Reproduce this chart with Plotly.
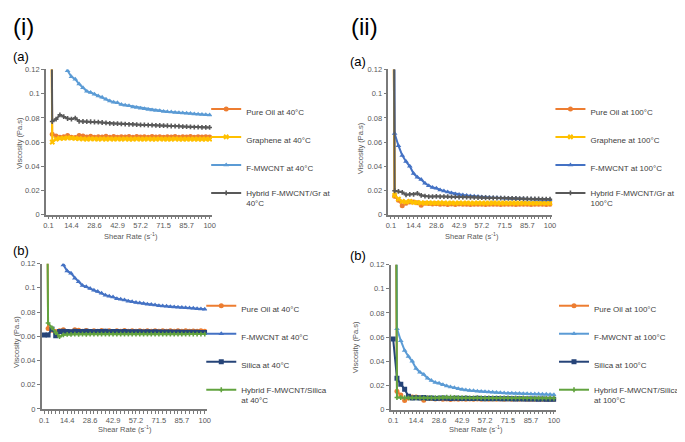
import plotly.graph_objects as go

# ---- data (shear rate categories, s^-1) ----
shear_rate = [0.1, 2.48, 4.86, 7.24, 9.61, 11.99, 14.37, 16.75, 19.13, 21.51, 23.89,
              26.26, 28.64, 31.02, 33.40, 35.78, 38.16, 40.54, 42.91, 45.29, 47.67,
              50.05, 52.43, 54.81, 57.19, 59.56, 61.94, 64.32, 66.70, 69.08, 71.46,
              73.84, 76.21, 78.59, 80.97, 83.35, 85.73, 88.11, 90.49, 92.86, 95.24,
              97.62, 100.0]
tick_positions = [0.1, 14.37, 28.64, 42.91, 57.19, 71.46, 85.73, 100.0]
tick_labels = ["0.1", "14.4", "28.6", "42.9", "57.2", "71.5", "85.7", "100"]
y_ticks = [0, 0.02, 0.04, 0.06, 0.08, 0.1, 0.12]
y_tick_labels = ["0", "0.02", "0.04", "0.06", "0.08", "0.1", "0.12"]

# 40 C
pure_oil_40 = [0.55, 0.0665, 0.065, 0.064, 0.0645, 0.0655, 0.064, 0.0638, 0.0655, 0.065,
               0.0642, 0.0648, 0.064, 0.0645, 0.0642, 0.0648, 0.0641, 0.0646, 0.064, 0.0645,
               0.0642, 0.0647, 0.0641, 0.0646, 0.0642, 0.0645, 0.0641, 0.0646, 0.0642, 0.0645,
               0.0641, 0.0645, 0.0642, 0.0646, 0.0641, 0.0645, 0.0642, 0.0646, 0.0641, 0.0644,
               0.0642, 0.0645, 0.0642]
graphene_40 = [0.5, 0.060, 0.0625, 0.063, 0.0632, 0.0635, 0.0634, 0.063, 0.0628, 0.0626,
               0.0625, 0.0627, 0.0626, 0.0625, 0.0626, 0.0625, 0.0626, 0.0625, 0.0626, 0.0625,
               0.0626, 0.0625, 0.0625, 0.0626, 0.0625, 0.0625, 0.0626, 0.0625, 0.0625, 0.0626,
               0.0625, 0.0625, 0.0625, 0.0626, 0.0625, 0.0625, 0.0625, 0.0625, 0.0624, 0.0625,
               0.0624, 0.0625, 0.0624]
fmwcnt_40 = [0.45, 0.30, 0.20, 0.16, 0.135, 0.119, 0.114, 0.112, 0.108, 0.105,
             0.102, 0.101, 0.0995, 0.098, 0.097, 0.0955, 0.094, 0.093, 0.0925, 0.091,
             0.0905, 0.090, 0.089, 0.0885, 0.088, 0.0875, 0.087, 0.0865, 0.0862, 0.0858,
             0.0853, 0.085, 0.0848, 0.0845, 0.0842, 0.084, 0.0838, 0.0836, 0.0833, 0.0831,
             0.0828, 0.0826, 0.0823]
hybrid_gr_40 = [0.6, 0.077, 0.079, 0.0825, 0.081, 0.0795, 0.079, 0.0798, 0.0772, 0.077,
                0.0769, 0.0768, 0.0766, 0.0765, 0.0762, 0.0758, 0.0755, 0.0752, 0.0752, 0.075,
                0.0748, 0.0747, 0.0746, 0.0745, 0.0743, 0.0742, 0.0741, 0.074, 0.0738, 0.0737,
                0.0736, 0.0735, 0.0733, 0.0732, 0.0731, 0.0728, 0.0727, 0.0726, 0.0724, 0.0723,
                0.0722, 0.0722, 0.0721]
silica_40 = [0.061, 0.061, 0.066, 0.0605, 0.064, 0.0642, 0.064, 0.0638, 0.0641, 0.064,
             0.0639, 0.0641, 0.064, 0.0638, 0.064, 0.0639, 0.0641, 0.0638, 0.0639, 0.064,
             0.0638, 0.0639, 0.0637, 0.0638, 0.0637, 0.0638, 0.0636, 0.0637, 0.0636, 0.0637,
             0.0635, 0.0636, 0.0635, 0.0636, 0.0634, 0.0635, 0.0634, 0.0634, 0.0633, 0.0634,
             0.0633, 0.0632, 0.0632]
hybrid_si_40 = [0.5, 0.071, 0.067, 0.063, 0.0597, 0.0612, 0.0616, 0.0615, 0.0617, 0.0616,
                0.0617, 0.0616, 0.0618, 0.0617, 0.0618, 0.0617, 0.0618, 0.0617, 0.0618, 0.0617,
                0.0618, 0.0617, 0.0618, 0.0617, 0.0618, 0.0617, 0.0618, 0.0617, 0.0618, 0.0617,
                0.0618, 0.0617, 0.0618, 0.0617, 0.0618, 0.0617, 0.0618, 0.0617, 0.0618, 0.0617,
                0.0618, 0.0617, 0.0618]

# 100 C
pure_oil_100 = [0.5, 0.0152, 0.012, 0.0075, 0.0095, 0.0105, 0.0104, 0.0098, 0.0078, 0.0095,
                0.0092, 0.0088, 0.009, 0.0086, 0.0088, 0.0084, 0.0088, 0.0085, 0.0088, 0.0086,
                0.0087, 0.0085, 0.0087, 0.0086, 0.0087, 0.0085, 0.0087, 0.0086, 0.0087, 0.0085,
                0.0087, 0.0086, 0.0087, 0.0085, 0.0087, 0.0086, 0.0086, 0.0085, 0.0087, 0.0086,
                0.0086, 0.0085, 0.0086]
graphene_100 = [0.5, 0.016, 0.013, 0.011, 0.0105, 0.011, 0.0102, 0.010, 0.0098, 0.0097,
                0.0098, 0.0097, 0.0097, 0.0098, 0.0097, 0.0096, 0.0097, 0.0096, 0.0097, 0.0096,
                0.0097, 0.0096, 0.0096, 0.0097, 0.0096, 0.0096, 0.0096, 0.0097, 0.0096, 0.0096,
                0.0096, 0.0095, 0.0096, 0.0096, 0.0095, 0.0096, 0.0095, 0.0095, 0.0096, 0.0095,
                0.0095, 0.0095, 0.0095]
fmwcnt_100 = [0.9, 0.067, 0.057, 0.049, 0.044, 0.040, 0.034, 0.031, 0.029, 0.026,
              0.024, 0.0225, 0.0218, 0.0205, 0.0195, 0.0188, 0.018, 0.0172, 0.0167, 0.0162,
              0.0158, 0.0155, 0.0152, 0.015, 0.0147, 0.0145, 0.0143, 0.0141, 0.014, 0.0138,
              0.0136, 0.0135, 0.0134, 0.0133, 0.0132, 0.0131, 0.013, 0.0129, 0.0128, 0.0127,
              0.0126, 0.0125, 0.0123]
hybrid_gr_100 = [0.9, 0.0198, 0.0192, 0.0185, 0.0165, 0.0168, 0.0168, 0.0176, 0.016, 0.0153,
                 0.015, 0.015, 0.0152, 0.015, 0.015, 0.0149, 0.0148, 0.0147, 0.0146, 0.0146,
                 0.0145, 0.0144, 0.0143, 0.0142, 0.0141, 0.014, 0.0139, 0.0138, 0.0137, 0.0137,
                 0.0136, 0.0135, 0.0135, 0.0134, 0.0133, 0.0132, 0.0132, 0.0131, 0.013, 0.013,
                 0.0129, 0.0129, 0.0128]
silica_100 = [0.0585, 0.026, 0.021, 0.0168, 0.011, 0.0095, 0.0098, 0.0095, 0.0100, 0.0093,
              0.0095, 0.0092, 0.0093, 0.0095, 0.0093, 0.0092, 0.0094, 0.0093, 0.0092, 0.0093,
              0.0091, 0.0092, 0.0093, 0.0091, 0.009, 0.0091, 0.009, 0.0092, 0.009, 0.0089,
              0.009, 0.0089, 0.0088, 0.0089, 0.0088, 0.0087, 0.0088, 0.0087, 0.0086, 0.0087,
              0.0086, 0.0085, 0.0085]
hybrid_si_100 = [0.8, 0.0100, 0.0099, 0.0098, 0.0097, 0.0097, 0.0098, 0.0097, 0.0096, 0.0097,
                 0.0098, 0.0098, 0.0099, 0.0101, 0.0103, 0.0102, 0.0100, 0.0099, 0.0098, 0.0098,
                 0.0097, 0.0097, 0.0098, 0.0097, 0.0096, 0.0097, 0.0096, 0.0096, 0.0097, 0.0096,
                 0.0096, 0.0095, 0.0096, 0.0095, 0.0096, 0.0095, 0.0095, 0.0094, 0.0095, 0.0094,
                 0.0095, 0.0094, 0.0094]

ORANGE = "#ED7D31"
YELLOW = "#FFC000"
LBLUE = "#5B9BD5"
BLUE = "#4472C4"
GRAY = "#595959"
NAVY = "#264478"
GREEN = "#62A33F"
FONT = "Liberation Sans"
TXT = "#595959"
AXC = "#7a7a7a"

# page body adds an 8px margin, so the figure is sized to fit the window
OFF = 8
W, H = 685 - OFF, 442 - OFF

def px_x(p):
    return (p - OFF) / W

def px_y(p):
    return 1 - (p - OFF) / H

# panel geometry in window pixels: (left, right, top, bottom)
panels = {
    1: (43.5, 213, 66.7, 215),
    2: (392.7, 560, 66.7, 215),
    3: (39.3, 208, 265, 413.3),
    4: (395, 564, 266, 414),
}

series = [
    (1, "Pure Oil at 40°C", pure_oil_40, ORANGE, "circle", "legend"),
    (1, "Graphene at 40°C", graphene_40, YELLOW, "x", "legend"),
    (1, "F-MWCNT at 40°C", fmwcnt_40, LBLUE, "triangle-up", "legend"),
    (1, "Hybrid F-MWCNT/Gr at<br>40°C", hybrid_gr_40, GRAY, "cross", "legend"),
    (2, "Pure Oil at 100°C", pure_oil_100, ORANGE, "circle", "legend2"),
    (2, "Graphene at 100°C", graphene_100, YELLOW, "x", "legend2"),
    (2, "F-MWCNT at 100°C", fmwcnt_100, BLUE, "triangle-up", "legend2"),
    (2, "Hybrid F-MWCNT/Gr at<br>100°C", hybrid_gr_100, GRAY, "cross", "legend2"),
    (3, "Pure Oil at 40°C", pure_oil_40, ORANGE, "circle", "legend3"),
    (3, "F-MWCNT at 40°C", fmwcnt_40, BLUE, "triangle-up", "legend3"),
    (3, "Silica at 40°C", silica_40, NAVY, "square", "legend3"),
    (3, "Hybrid F-MWCNT/Silica<br>at 40°C", hybrid_si_40, GREEN, "cross", "legend3"),
    (4, "Pure Oil at 100°C", pure_oil_100, ORANGE, "circle", "legend4"),
    (4, "F-MWCNT at 100°C", fmwcnt_100, LBLUE, "triangle-up", "legend4"),
    (4, "Silica at 100°C", silica_100, NAVY, "square", "legend4"),
    (4, "Hybrid F-MWCNT/Silica<br>at 100°C", hybrid_si_100, GREEN, "cross", "legend4"),
]

fig = go.Figure()
for i, (p, name, vals, col, sym, leg) in enumerate(series):
    sfx = "" if p == 1 else str(p)
    size = 4 if sym == "cross" else 5
    fig.add_trace(go.Scatter(
        x=shear_rate, y=vals, name=name, mode="lines+markers",
        line=dict(color=col, width=2),
        marker=dict(symbol=sym, size=size, color=col, line=dict(width=0, color=col)),
        xaxis="x" + sfx, yaxis="y" + sfx, legend=leg, legendgroup="g%d" % i,
    ))

layout = dict(width=W, height=H, margin=dict(l=0, r=0, t=0, b=0), autosize=False,
              paper_bgcolor="white", plot_bgcolor="white", showlegend=True,
              font=dict(family=FONT, color=TXT, size=8))

for p, (l, r, t, b) in panels.items():
    sfx = "" if p == 1 else str(p)
    layout["xaxis" + sfx] = dict(
        domain=[px_x(l), px_x(r)], anchor="y" + sfx, range=[-1.5, 101.5],
        tickmode="array", tickvals=tick_positions, ticktext=tick_labels,
        showline=True, linecolor=AXC, linewidth=1.5, ticks="outside", ticklen=3,
        tickcolor=AXC, showgrid=False, zeroline=False,
        tickfont=dict(size=7.5, color=TXT, family=FONT),
        minor=dict(ticks="outside", ticklen=3, tickcolor=AXC, tickvals=shear_rate, showgrid=False),
    )
    layout["yaxis" + sfx] = dict(
        domain=[px_y(b), px_y(t)], anchor="x" + sfx, range=[0, 0.12],
        tickmode="array", tickvals=y_ticks, ticktext=y_tick_labels,
        showline=True, linecolor=AXC, linewidth=1.5, ticks="outside", ticklen=3,
        tickcolor=AXC, showgrid=False, zeroline=False,
        tickfont=dict(size=7.5, color=TXT, family=FONT),
    )

leg_common = dict(xanchor="left", yanchor="top", bgcolor="rgba(0,0,0,0)",
                  font=dict(size=8, color="#404040", family=FONT), itemwidth=30,
                  tracegroupgap=9, valign="top", itemclick=False, itemdoubleclick=False)
layout["legend"] = dict(x=px_x(207), y=px_y(95), **leg_common)
layout["legend2"] = dict(x=px_x(558), y=px_y(95), **leg_common)
layout["legend3"] = dict(x=px_x(202), y=px_y(296), **leg_common)
layout["legend4"] = dict(x=px_x(562), y=px_y(296), **leg_common)

annotations = []
def ann(text, x, y, size, angle=0, color="#000000", xanchor="center"):
    annotations.append(dict(text=text, x=px_x(x), y=px_y(y), xref="paper", yref="paper",
                            showarrow=False, font=dict(size=size, color=color, family=FONT),
                            textangle=angle, xanchor=xanchor, yanchor="middle"))

ann("(i)", 8, 23, 24, xanchor="left")
ann("(ii)", 353, 23, 24, xanchor="left")
ann("(a)", 8, 53.5, 13, xanchor="left")
ann("(a)", 352, 59, 13, xanchor="left")
ann("(b)", 8, 251.5, 13, xanchor="left")
ann("(b)", 352, 257, 13, xanchor="left")

xt = "Shear Rate (s<sup>-1</sup>)"
ann(xt, 130, 237, 7.5, color=TXT)
ann(xt, 478, 237, 7.5, color=TXT)
ann(xt, 124, 434, 7.5, color=TXT)
ann(xt, 482, 434, 7.5, color=TXT)
yt = "Viscosity (Pa.s)"
ann(yt, 16, 142, 7.5, angle=-90, color=TXT)
ann(yt, 364, 147, 7.5, angle=-90, color=TXT)
ann(yt, 13, 345, 7.5, angle=-90, color=TXT)
ann(yt, 360, 350, 7.5, angle=-90, color=TXT)

layout["annotations"] = annotations
fig.update_layout(**layout)
fig.write_html("out.html")
